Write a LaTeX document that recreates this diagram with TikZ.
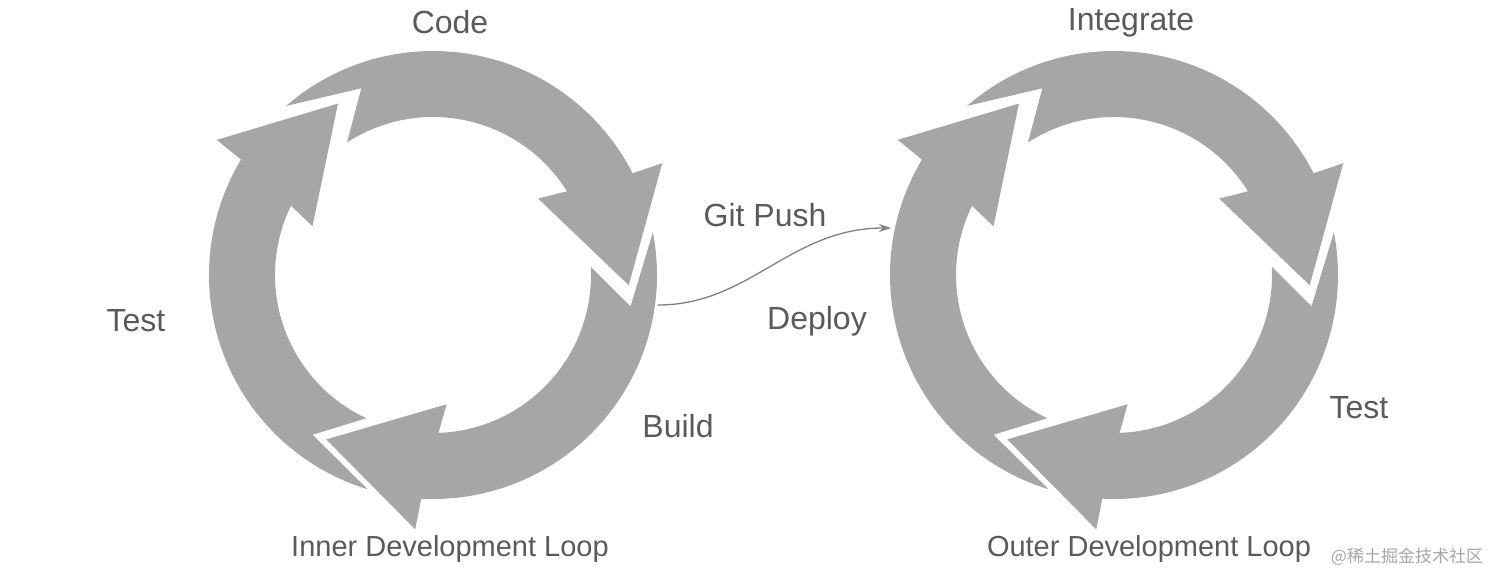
\documentclass[tikz,border=0pt]{standalone}
\usepackage{fontspec}
\setmainfont{Liberation Sans}
\newfontfamily\cjkfont{Noto Sans CJK SC}
\usetikzlibrary{arrows.meta}
\definecolor{arrgray}{HTML}{A6A6A6}
\definecolor{txt}{HTML}{5A5A5A}
\newcommand\cyclearrow[1]{%
  \fill[arrgray] ({#1}:196) -- ({#1+29}:255) -- ({#1+30}:224)
    arc[start angle={#1+30}, end angle={#1+134}, radius=224]
    -- ({#1+114}:200) -- ({#1+126}:158)
    arc[start angle={#1+126}, end angle={#1+35}, radius=158]
    -- ({#1+39}:130) -- cycle;}
\begin{document}
\begin{tikzpicture}[x=1pt,y=-1pt,
  big/.style={text=txt,font=\fontsize{32}{36}\selectfont,inner sep=0pt},
  small/.style={text=txt,font=\fontsize{29}{33}\selectfont,inner sep=0pt}]
\useasboundingbox (0,0) rectangle (1493,575);
\begin{scope}[shift={(433,275)},x=1pt,y=1pt]
  \cyclearrow{119}\cyclearrow{-3}\cyclearrow{237}
\end{scope}
\begin{scope}[shift={(1114,275)},x=1pt,y=1pt]
  \cyclearrow{119}\cyclearrow{-3}\cyclearrow{237}
\end{scope}
\node[big] (code) at (450,22) {Code};
\node[big] (test1) at (136,321) {Test};
\node[big] (build) at (678,426) {Build};
\node[big] (git) at (765,215) {Git Push};
\node[big] (deploy) at (817,321) {Deploy};
\node[small] (inner) at (450,549) {Inner Development Loop};
\node[big] (integ) at (1131,23) {Integrate};
\node[big] (test2) at (1359,408) {Test};
\node[small] (outer) at (1149,549) {Outer Development Loop};
\node[text=black!35,font=\cjkfont\fontsize{17}{20}\selectfont,inner sep=0pt] (wm) at (1407,557) {@稀土掘金技术社区};
\coordinate (gpS) at (658,305);
\coordinate (gpE) at (891,228);
\draw[gray,line width=1.3pt,-{Stealth[length=12pt,width=8pt]}] (gpS) .. controls (750,305) and (790,228) .. (gpE);
\end{tikzpicture}
\end{document}
